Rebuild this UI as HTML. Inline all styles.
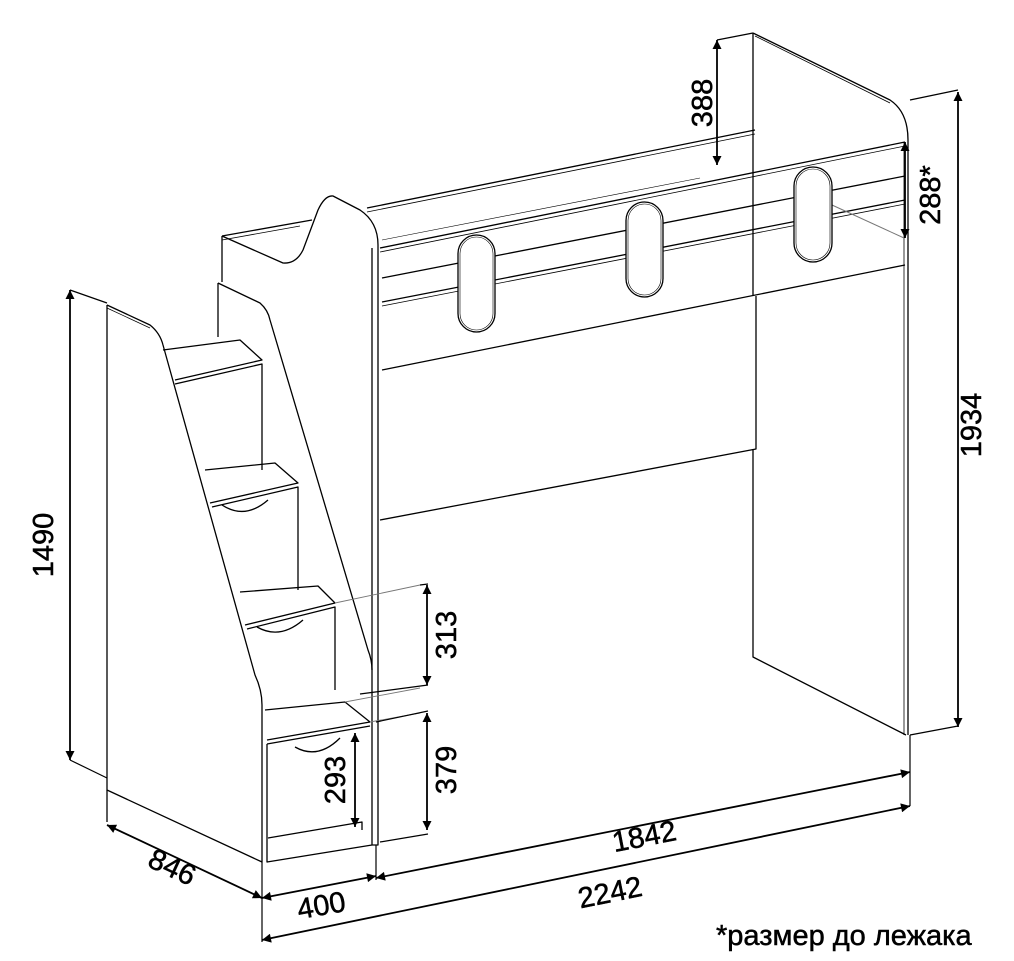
<!DOCTYPE html>
<html><head><meta charset="utf-8"><style>
html,body{margin:0;padding:0;background:#fff}
svg{display:block}
text{font-family:"Liberation Sans",sans-serif;fill:#000;stroke:#000;stroke-width:0.5}
</style></head><body>
<svg width="1014" height="961" viewBox="0 0 1014 961" xmlns="http://www.w3.org/2000/svg">
<defs>
<marker id="a" viewBox="0 0 10 10" refX="10" refY="5" markerWidth="14" markerHeight="9" markerUnits="userSpaceOnUse" orient="auto-start-reverse"><path d="M0,0 L10,5 L0,10 z" fill="#000"/></marker>
</defs>
<g fill="none" stroke="#000" stroke-width="1.3" stroke-linejoin="round">
<path d="M753,33 L753,295 M753,449 L753,657 L906,735"/>
<path d="M753,33 L890,100 Q908,112 908,140 L908,735"/>
<path d="M755,36 L890,103" stroke-width="0.8"/>
<path d="M904,142 L904,735" stroke-width="0.8"/>
<path d="M367,208 L755,130"/>
<path d="M367,212 L755,134" stroke-width="0.8"/>
<path d="M380,248 L905,142"/>
<path d="M380,252 L905,146" stroke-width="0.8"/>
<path d="M382,278 L905,176"/>
<path d="M382,302 L905,200"/>
<path d="M382,306 L905,204" stroke-width="0.8"/>
<path d="M382,370 L905,265"/>
<path d="M380,520 L756,449 L756,296"/>
<path d="M382,240 L700,178" stroke-width="0.6"/>
<path d="M832,205 L904,238" stroke="#777" stroke-width="1"/>
<rect x="458" y="235" width="37" height="97" rx="18.5" fill="#fff"/>
<rect x="460" y="237" width="33" height="93" rx="16.5" stroke-width="0.6"/>
<rect x="626" y="202" width="37" height="95" rx="18.5" fill="#fff"/>
<rect x="628" y="204" width="33" height="91" rx="16.5" stroke-width="0.6"/>
<rect x="794" y="167" width="38" height="95" rx="19" fill="#fff"/>
<rect x="796" y="169" width="34" height="91" rx="17" stroke-width="0.6"/>
<path d="M222,236 L312,220" />
<path d="M222,240 L300,226" stroke-width="0.8"/>
<path d="M222,236 L283,263 Q296,264 303,250 L318,210 Q325,195 333,196 L360,210 Q378,222 378,245 L378,845 L372,845 L372,248"/>
<path d="M222,236 L222,282"/>
<path d="M218,283 L260,303 Q268,310 270,320 L368,650 Q372,660 372,670"/>
<path d="M218,283 L218,337"/>
<path d="M107,305 L150,325 Q160,333 163,345 L255,675 Q262,690 262,705 L262,862 L107,790 L107,305"/>
<path d="M107,822 L107,790"/>
<path d="M107,308 L150,328" stroke-width="0.7"/>
<path d="M163,350 L240,340 L262,360 L175,380"/>
<path d="M175,384 L262,364 L262,470"/>
<path d="M205,470 L275,463 L298,483 L210,503"/>
<path d="M212,507 L298,487 L298,590"/>
<path d="M222,505 Q245,520 268,500"/>
<path d="M240,592 L318,586 L335,603 L245,625"/>
<path d="M247,629 L335,607 L335,690"/>
<path d="M257,627 Q280,640 303,620"/>
<path d="M265,710 L345,702 L370,722 L267,740"/>
<path d="M267,744 L370,726"/>
<path d="M267,744 L267,862 L372,845 M268,838 L362,822 L362,830"/>
<path d="M295,747 Q318,760 340,738"/>
<path d="M335,603 L420,585 M345,702 L420,688 M370,722 L420,713" stroke="#777" stroke-width="0.9"/>
</g>
<g fill="none" stroke="#000" stroke-width="1.8">
<path d="M70,290 L70,760" marker-start="url(#a)" marker-end="url(#a)"/>
<path d="M70,290 L107,303 M70,760 L107,778" stroke-width="1.2"/>
<path d="M107,825 L262,898" marker-start="url(#a)" marker-end="url(#a)"/>
<path d="M262,862 L262,942" stroke-width="1.2"/>
<path d="M262,898 L376,876" marker-start="url(#a)" marker-end="url(#a)"/>
<path d="M376,845 L376,880" stroke-width="1.2"/>
<path d="M262,940 L910,806" marker-start="url(#a)" marker-end="url(#a)"/>
<path d="M376,878 L910,772" marker-start="url(#a)" marker-end="url(#a)"/>
<path d="M910,735 L910,806" stroke-width="1.2"/>
<path d="M958,92 L958,727" marker-start="url(#a)" marker-end="url(#a)"/>
<path d="M910,100 L958,90 M910,735 L958,726" stroke-width="1.2"/>
<path d="M905,142 L905,238" marker-start="url(#a)" marker-end="url(#a)"/>
<path d="M717,40 L717,165" marker-start="url(#a)" marker-end="url(#a)"/>
<path d="M717,40 L753,33" stroke-width="1.2"/>
<path d="M427,585 L427,685" marker-start="url(#a)" marker-end="url(#a)"/>
<path d="M420,585 L428,584 M360,694 L428,685" stroke-width="1.2"/>
<path d="M427,713 L427,830" marker-start="url(#a)" marker-end="url(#a)"/>
<path d="M376,722 L428,711 M380,842 L428,834" stroke-width="1.2"/>
<path d="M355,733 L355,827" marker-start="url(#a)" marker-end="url(#a)"/>
</g>
<g font-size="29">
<text transform="translate(53,545) rotate(-90)" text-anchor="middle">1490</text>
<text transform="translate(168,876) rotate(25)" text-anchor="middle">846</text>
<text transform="translate(323,915) rotate(-10)" text-anchor="middle">400</text>
<text transform="translate(612,902) rotate(-11.5)" text-anchor="middle">2242</text>
<text transform="translate(646,846) rotate(-11)" text-anchor="middle">1842</text>
<text transform="translate(981,425) rotate(-90)" text-anchor="middle">1934</text>
<text transform="translate(940,195) rotate(-90)" text-anchor="middle">288*</text>
<text transform="translate(712,103) rotate(-90)" text-anchor="middle">388</text>
<text transform="translate(456,635) rotate(-90)" text-anchor="middle">313</text>
<text transform="translate(456,770) rotate(-90)" text-anchor="middle">379</text>
<text transform="translate(345,780) rotate(-90)" text-anchor="middle">293</text>
<text x="716" y="945" font-size="29">*размер до лежака</text>
</g>
</svg>
</body></html>
